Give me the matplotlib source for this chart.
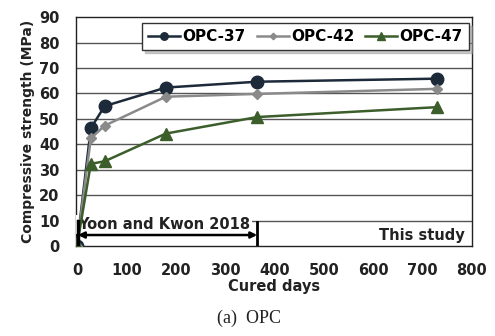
import numpy as np
import matplotlib.pyplot as plt

# curing ages (days) and compressive strength (MPa)
days = [0, 28, 56, 180, 365, 730]
opc37 = [0, 46.3, 55.0, 62.3, 64.6, 65.8]
opc42 = [0, 42.3, 47.3, 58.7, 59.8, 61.8]
opc47 = [0, 32.3, 33.3, 44.2, 50.7, 54.6]

fig = plt.figure(figsize=(4.95, 3.36), dpi=100)
ax = fig.add_axes([0.1535, 0.268, 0.80, 0.681])
ax.set_xlim(-2, 800)
ax.set_ylim(0, 90)

# horizontal grid
for g in range(10, 90, 10):
    ax.axhline(g, color="#555555", lw=1.0, zorder=0)

ax.plot(days, opc37, "-o", color="#1c2a3a", lw=1.8, ms=9, label="OPC-37", zorder=4)
ax.plot(days, opc42, "-D", color="#8a8a8a", lw=1.8, ms=5.5, label="OPC-42", zorder=5)
ax.plot(days, opc47, "-^", color="#3b5e2b", lw=1.8, ms=9, label="OPC-47", zorder=6)

for s in ax.spines.values():
    s.set_color("#222222")
    s.set_linewidth(1.0)

ax.set_xticks(np.arange(0, 801, 100))
ax.set_yticks(np.arange(0, 91, 10))
ax.tick_params(axis="x", length=0, pad=12, labelsize=10.5)
ax.tick_params(axis="y", length=0, pad=12, labelsize=10.5)
for lab in ax.get_xticklabels() + ax.get_yticklabels():
    lab.set_fontweight("bold")
    lab.set_color("#222222")
ax.set_xlabel("Cured days", fontsize=10.5, fontweight="bold", labelpad=1, color="#222222")
ax.set_ylabel("Compressive strength (MPa)", fontsize=10, fontweight="bold", labelpad=3, color="#222222")

leg = ax.legend(loc="upper right", ncol=3, bbox_to_anchor=(0.992, 0.975), borderaxespad=0,
                frameon=True, fancybox=False, shadow={"color": "#999999", "alpha": 0.5},
                handlelength=2.1, handletextpad=0.15, markerscale=0.6,
                columnspacing=0.7, borderpad=0.4,
                prop={"weight": "bold", "size": 11})
leg.get_frame().set_edgecolor("#333333")
leg.get_frame().set_linewidth(1.0)

# study period annotations
ax.text(2, 8.5, "Yoon and Kwon 2018", fontsize=10.5, fontweight="bold", color="#222222",
        va="center", ha="left", zorder=3,
        bbox=dict(facecolor="white", edgecolor="none", pad=1.5))
ax.annotate("", xy=(365, 4.3), xytext=(2, 4.3),
            arrowprops=dict(arrowstyle="<|-|>", color="black", lw=1.8, mutation_scale=9,
                            shrinkA=0, shrinkB=0), zorder=7)
ax.plot([2, 2], [0, 10], color="black", lw=2.5, zorder=7)
ax.plot([365, 365], [0, 9.5], color="black", lw=2.0, zorder=7)
ax.text(785, 4.3, "This study", fontsize=10.5, fontweight="bold", color="#222222",
        va="center", ha="right")

fig.text(0.503, 0.053, "(a)  OPC", fontsize=13, family="Liberation Serif",
         ha="center", va="center", color="#222222")

fig.savefig("out.png", dpi=100)
